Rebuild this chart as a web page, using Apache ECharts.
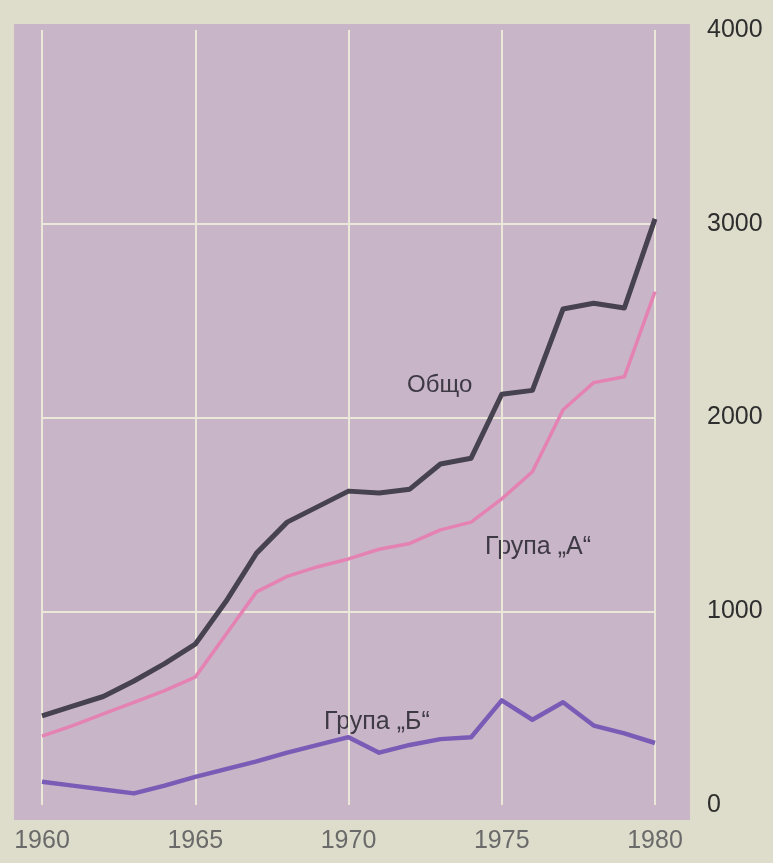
<!DOCTYPE html>
<html>
<head>
<meta charset="utf-8">
<script src="https://cdn.jsdelivr.net/npm/echarts@6/dist/echarts.min.js"></script>
<style>
  html, body { margin: 0; padding: 0; background: #dedccb; }
  #chart { width: 773px; height: 863px; }
</style>
</head>
<body>
<div id="chart"></div>
<script>
// години 1960 - 1980
const years = [1960, 1961, 1962, 1963, 1964, 1965, 1966, 1967, 1968, 1969, 1970,
  1971, 1972, 1973, 1974, 1975, 1976, 1977, 1978, 1979, 1980];
const total = [460, 510, 560, 640, 730, 830, 1050, 1300, 1460, 1540, 1620,
  1610, 1630, 1760, 1790, 2120, 2140, 2560, 2590, 2565, 3025];
const groupA = [355, 410, 470, 530, 590, 660, 880, 1100, 1180, 1230, 1270,
  1320, 1350, 1420, 1460, 1580, 1720, 2040, 2180, 2210, 2650];
const groupB = [120, 100, 80, 60, 100, 145, 185, 225, 270, 310, 350,
  270, 310, 340, 350, 540, 440, 530, 410, 370, 320];
const yTicks = [0, 1000, 2000, 3000, 4000];
const xTicks = [1960, 1965, 1970, 1975, 1980];

const pairs = (vals) => years.map((y, i) => [y, vals[i]]);

const myChart = echarts.init(document.getElementById("chart"));
const font = "'Liberation Sans', Arial, sans-serif";
const gridColor = "#ece8d9";

myChart.setOption({
  backgroundColor: "#dedccb",
  animation: false,
  grid: { left: 42, right: 118, top: 30, bottom: 58 },
  graphic: [
    {
      type: "rect",
      z: -10,
      silent: true,
      shape: { x: 14, y: 24, width: 676, height: 796 },
      style: { fill: "#c9b5c8" },
    },
    {
      type: "text", left: 407, top: 373,
      style: { text: "Общо", fill: "#3e3a44", font: "24px " + font },
    },
    {
      type: "text", left: 485, top: 535,
      style: { text: "Група „А“", fill: "#3e3a44", font: "25px " + font },
    },
    {
      type: "text", left: 324, top: 710,
      style: { text: "Група „Б“", fill: "#3e3a44", font: "25px " + font },
    },
  ],
  xAxis: {
    type: "value",
    min: 1960,
    max: 1980,
    interval: 5,
    axisLine: { show: false },
    axisTick: { show: false },
    axisLabel: {
      margin: 24,
      color: "#6a6a6a",
      fontSize: 25,
      fontFamily: font,
      formatter: (v) => (xTicks.includes(v) ? String(v) : ""),
    },
    splitLine: { show: true, lineStyle: { color: gridColor, width: 2 } },
  },
  yAxis: {
    type: "value",
    position: "right",
    min: 0,
    max: 4000,
    interval: 1000,
    axisLine: { show: false },
    axisTick: { show: false },
    axisLabel: {
      margin: 52,
      color: "#2e2e2e",
      fontSize: 25,
      fontFamily: font,
      formatter: (v) => (yTicks.includes(v) ? String(v) : ""),
    },
    splitLine: {
      show: true,
      showMinLine: false,
      showMaxLine: false,
      lineStyle: { color: gridColor, width: 2 },
    },
  },
  series: [
    {
      name: "Група „Б“",
      type: "line",
      data: pairs(groupB),
      symbol: "none",
      lineStyle: { color: "#7a5cb6", width: 4.5, join: "round" },
    },
    {
      name: "Група „А“",
      type: "line",
      data: pairs(groupA),
      symbol: "none",
      lineStyle: { color: "#e482b4", width: 3.5, join: "round" },
    },
    {
      name: "Общо",
      type: "line",
      data: pairs(total),
      symbol: "none",
      lineStyle: { color: "#47424f", width: 5, join: "round" },
    },
  ],
});
</script>
</body>
</html>
